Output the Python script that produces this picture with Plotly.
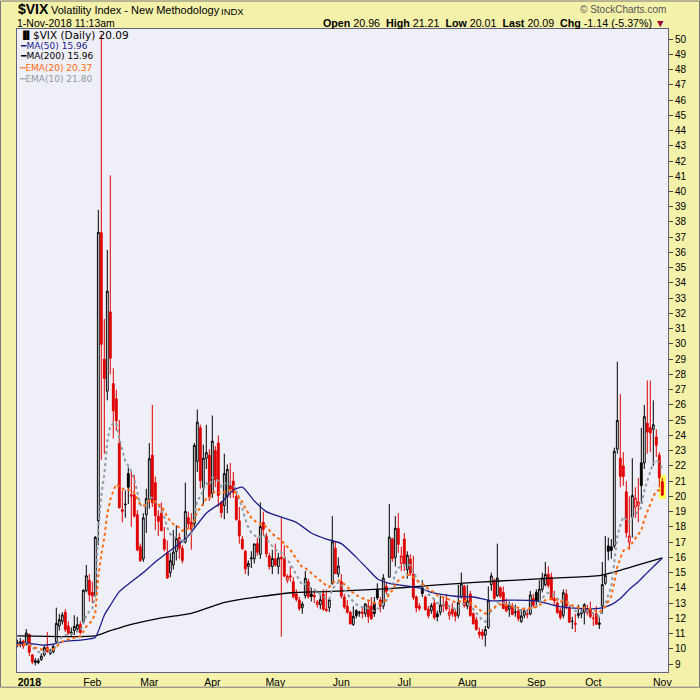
import pandas as pd
import plotly.graph_objects as go

# market holidays inside the window (Dec 26 2017 .. Nov 1 2018)
HOLIDAYS = ['2018-01-01', '2018-01-15', '2018-02-19', '2018-03-30',
            '2018-05-28', '2018-07-04', '2018-09-03']

# daily $VIX candles, one line per month (Dec, Jan, ..., Oct, Nov)
open_ = [
    10.40, 10.30, 10.50, 10.30,
    10.95, 9.60, 9.10, 9.10, 9.30, 9.60, 10.10, 9.70, 9.80, 10.45, 11.50, 11.80, 12.40, 11.50, 11.00, 11.20, 11.30, 11.60, 11.80, 13.80, 14.50,
    13.70, 13.50, 18.40, 37.30, 29.00, 26.90, 32.10, 27.40, 26.40, 23.50, 19.00, 19.50, 21.50, 20.10, 20.10, 18.80, 16.70, 15.90, 18.80,
    19.80, 22.70, 20.90, 18.70, 18.90, 17.20, 16.30, 15.00, 15.50, 16.40, 17.30, 16.60, 17.00, 18.60, 18.30, 18.20, 22.30, 24.50, 20.60, 22.50, 22.70,
    20.20, 23.00, 23.50, 19.60, 19.40, 20.00, 20.70, 21.00, 20.00, 18.40, 17.20, 16.40, 15.40, 15.90, 15.90, 16.90, 16.20, 18.30, 17.40, 16.10, 15.40,
    15.90, 15.40, 16.00, 15.90, 14.50, 14.80, 14.40, 13.60, 13.20, 12.70, 13.50, 14.40, 13.60, 13.50, 12.90, 12.90, 13.60, 12.60, 12.70, 14.30, 16.60, 14.90,
    14.40, 13.40, 12.80, 12.40, 11.60, 12.50, 12.40, 12.40, 12.30, 12.80, 12.80, 13.00, 13.90, 13.20, 12.80, 14.10, 14.70, 17.20, 16.00, 17.90, 15.60,
    17.20, 15.20, 15.90, 14.90, 13.40, 12.80, 14.00, 13.40, 12.60, 12.50, 13.00, 12.30, 12.40, 12.90, 13.10, 12.20, 12.60, 12.40, 12.20, 13.40, 14.10,
    12.80, 13.60, 12.30, 11.90, 11.10, 11.10, 10.90, 11.40, 14.20, 14.50, 13.50, 14.00, 13.70, 12.90, 12.60, 12.80, 12.40, 12.50, 11.80, 12.20, 12.30, 12.30, 13.30,
    13.70, 13.10, 13.90, 14.20, 14.90, 14.70, 13.30, 13.00, 12.50, 12.20, 13.60, 12.70, 11.80, 11.60, 12.30, 12.30, 12.40, 12.60, 12.60,
    12.00, 12.30, 11.70, 12.80, 14.30, 16.75, 16.70, 16.75, 23.10, 22.50, 22.00, 20.30, 17.00, 18.60, 19.30, 19.40, 22.20, 22.20, 24.80, 24.50, 24.40, 23.90, 22.70,
    20.96,
]
high = [
    10.60, 10.70, 10.60, 11.30,
    10.99, 9.65, 9.40, 9.38, 9.70, 10.25, 11.10, 10.00, 10.25, 12.70, 12.30, 12.40, 12.60, 11.80, 11.40, 12.20, 12.10, 11.80, 13.90, 15.50, 14.90,
    14.40, 17.40, 38.80, 50.30, 31.64, 36.17, 41.06, 28.40, 27.00, 25.00, 20.40, 20.40, 21.90, 21.60, 21.40, 19.10, 16.90, 18.90, 20.50,
    23.50, 26.00, 21.30, 19.10, 19.60, 18.00, 17.10, 16.30, 17.80, 18.10, 17.60, 16.80, 20.90, 19.00, 18.90, 23.50, 25.70, 24.70, 23.40, 24.70, 23.10,
    25.30, 23.30, 24.00, 19.70, 22.80, 22.10, 22.20, 21.60, 20.30, 19.30, 17.40, 16.50, 15.80, 16.40, 16.90, 17.30, 19.60, 19.00, 17.60, 16.30, 16.50,
    16.90, 16.30, 18.60, 16.80, 14.90, 15.40, 14.70, 13.90, 13.40, 13.10, 15.10, 14.60, 14.00, 13.90, 13.20, 13.50, 13.90, 13.90, 13.30, 18.70, 17.00, 16.00,
    14.90, 13.60, 13.20, 12.50, 12.80, 12.60, 12.50, 12.70, 13.00, 13.20, 13.40, 13.40, 14.30, 13.40, 14.90, 14.40, 19.50, 17.30, 18.70, 18.90, 16.70,
    17.60, 16.40, 16.20, 16.10, 13.50, 13.00, 14.50, 13.50, 12.80, 13.00, 13.30, 12.50, 13.50, 13.40, 13.60, 12.80, 13.00, 12.60, 14.20, 15.00, 14.20,
    14.20, 13.80, 12.40, 12.10, 11.40, 11.30, 11.50, 14.10, 15.00, 14.60, 16.90, 14.10, 14.10, 13.30, 13.10, 13.00, 12.90, 12.60, 12.60, 12.70, 12.60, 13.80, 13.60,
    13.90, 14.50, 15.00, 15.70, 15.40, 15.00, 13.80, 13.10, 12.70, 13.90, 13.90, 12.90, 12.10, 12.30, 12.90, 12.60, 13.00, 12.90, 13.10,
    12.40, 12.80, 12.10, 15.70, 17.40, 17.30, 17.20, 23.20, 28.84, 26.70, 22.90, 21.00, 20.00, 22.50, 20.60, 21.20, 24.50, 26.00, 27.60, 27.60, 26.30, 24.40, 22.90,
    21.21,
]
low = [
    10.10, 10.10, 10.00, 10.20,
    9.52, 8.99, 8.92, 9.00, 9.20, 9.50, 9.75, 9.60, 9.70, 10.40, 11.20, 11.60, 11.10, 10.90, 10.80, 10.90, 11.10, 10.95, 11.70, 13.70, 13.10,
    13.00, 13.40, 16.80, 22.40, 22.80, 26.30, 28.00, 23.80, 24.30, 19.20, 18.30, 18.60, 19.50, 18.00, 18.60, 16.40, 15.70, 15.70, 17.60,
    19.20, 19.30, 17.80, 17.40, 17.70, 16.40, 14.60, 14.70, 15.20, 15.80, 15.90, 15.60, 16.90, 17.90, 16.50, 18.00, 21.60, 20.50, 19.40, 21.80, 19.70,
    19.90, 20.60, 19.30, 18.60, 18.50, 18.90, 19.90, 19.90, 18.40, 16.90, 16.50, 14.90, 14.80, 15.30, 15.60, 16.10, 15.90, 17.40, 16.00, 15.20, 14.90,
    15.40, 14.90, 10.80, 14.70, 14.30, 14.40, 13.30, 13.10, 12.50, 12.30, 13.30, 13.30, 13.10, 13.00, 12.70, 12.60, 12.50, 12.40, 12.40, 14.20, 14.90, 14.70,
    13.30, 12.60, 12.30, 11.60, 11.50, 12.00, 12.10, 12.00, 12.10, 11.70, 11.90, 12.10, 13.20, 12.40, 12.60, 13.60, 14.70, 15.70, 15.40, 16.30, 15.10,
    15.10, 14.60, 14.80, 13.20, 12.40, 12.50, 13.40, 12.50, 12.00, 12.30, 11.90, 11.80, 12.20, 12.40, 12.50, 11.90, 12.10, 11.80, 12.00, 13.30, 12.70,
    12.60, 12.10, 11.60, 11.20, 10.70, 10.60, 10.15, 11.30, 13.80, 13.20, 13.40, 13.30, 12.60, 12.40, 12.10, 12.20, 12.10, 11.80, 11.70, 12.00, 12.00, 12.20, 12.70,
    12.70, 13.00, 13.70, 14.10, 14.00, 13.20, 12.90, 12.30, 11.90, 12.00, 12.60, 11.70, 11.30, 11.10, 12.00, 12.00, 11.60, 12.20, 12.00,
    11.50, 11.60, 11.30, 12.30, 14.20, 15.80, 15.90, 16.60, 22.80, 20.60, 20.70, 17.30, 16.50, 17.30, 18.60, 18.30, 19.50, 21.80, 22.80, 22.90, 22.00, 22.60, 20.60,
    20.01,
]
close = [
    10.25, 10.47, 10.18, 11.04,
    9.77, 9.15, 9.22, 9.22, 9.52, 10.08, 9.82, 9.88, 10.16, 11.66, 11.91, 12.22, 11.27, 11.03, 11.10, 11.47, 11.58, 11.08, 13.84, 14.79, 13.54,
    13.47, 17.31, 37.32, 29.98, 27.73, 33.46, 29.06, 25.61, 24.97, 19.26, 19.13, 19.46, 20.60, 20.02, 18.72, 16.49, 15.80, 18.59, 19.85,
    22.47, 19.59, 18.73, 18.36, 17.76, 16.54, 14.64, 15.78, 16.35, 17.23, 16.59, 15.80, 19.02, 18.20, 17.86, 23.34, 24.87, 21.03, 22.50, 22.87, 19.97,
    23.62, 21.10, 20.06, 18.94, 21.49, 21.77, 20.47, 20.24, 18.49, 17.41, 16.56, 15.25, 15.60, 15.96, 16.88, 16.34, 18.02, 17.84, 16.24, 15.41, 15.93,
    15.49, 15.97, 15.90, 14.77, 14.75, 14.71, 13.42, 13.23, 12.65, 12.93, 14.63, 13.42, 13.43, 13.42, 13.08, 13.22, 12.58, 12.53, 13.22, 17.02, 14.94, 15.43,
    13.46, 12.74, 12.40, 11.64, 12.13, 12.18, 12.35, 12.34, 12.94, 12.12, 11.98, 12.31, 13.35, 12.79, 14.64, 13.77, 17.33, 15.92, 17.91, 16.85, 16.09,
    15.60, 16.14, 14.97, 13.37, 12.69, 12.64, 13.63, 12.58, 12.18, 12.83, 12.06, 12.10, 12.87, 12.86, 12.62, 12.41, 12.29, 12.14, 13.03, 14.26, 12.83,
    13.15, 12.19, 11.64, 11.27, 10.93, 10.85, 11.27, 13.16, 14.78, 13.31, 14.64, 13.45, 12.64, 12.49, 12.86, 12.25, 12.41, 11.99, 12.16, 12.50, 12.25, 13.53, 12.86,
    13.16, 13.91, 14.65, 14.88, 14.16, 13.22, 13.14, 12.37, 12.07, 13.68, 12.79, 11.75, 11.80, 11.68, 12.20, 12.42, 12.89, 12.41, 12.12,
    12.00, 11.61, 11.61, 14.22, 14.82, 16.40, 16.45, 22.96, 24.98, 21.31, 21.30, 17.62, 17.40, 20.06, 19.89, 19.64, 20.71, 25.23, 24.22, 24.16, 24.70, 23.35, 21.23,
    20.09,
]

# moving averages (they need history from before the window)
ma50_dates = ['2017-12-26', '2018-01-02', '2018-01-08', '2018-01-12', '2018-01-19', '2018-01-25',
              '2018-01-31', '2018-02-02', '2018-02-07', '2018-02-09', '2018-02-14', '2018-02-21',
              '2018-02-27', '2018-03-05', '2018-03-09', '2018-03-15', '2018-03-20', '2018-03-28',
              '2018-04-05', '2018-04-11', '2018-04-16', '2018-04-20', '2018-04-26', '2018-05-02',
              '2018-05-10', '2018-05-17', '2018-05-24', '2018-06-01', '2018-06-08', '2018-06-14',
              '2018-06-19', '2018-06-25', '2018-07-10', '2018-07-16', '2018-07-26', '2018-08-03',
              '2018-08-13', '2018-08-22', '2018-09-04', '2018-09-13', '2018-09-24', '2018-10-03',
              '2018-10-09', '2018-10-12', '2018-10-17', '2018-10-22', '2018-10-25', '2018-11-01']
ma50 = [10.35, 10.35, 10.25, 10.30, 10.50, 10.55,
        10.65, 10.75, 12.20, 12.85, 13.75, 14.40,
        15.00, 15.70, 16.30, 16.90, 17.40, 18.90,
        19.60, 20.40, 20.60, 19.70, 19.00, 18.70,
        18.30, 17.60, 17.20, 16.90, 16.00, 15.20,
        14.60, 14.30, 14.00, 13.70, 13.45, 13.40,
        13.15, 13.20, 13.15, 12.80, 12.65, 12.65,
        12.90, 13.30, 13.90, 14.40, 15.00, 15.96]

ma200_dates = ['2017-12-26', '2018-02-02', '2018-02-09', '2018-02-15', '2018-02-21', '2018-03-05',
               '2018-03-15', '2018-03-21', '2018-03-28', '2018-04-06', '2018-04-12', '2018-04-23',
               '2018-05-08', '2018-05-24', '2018-06-11', '2018-06-25', '2018-07-10', '2018-07-24',
               '2018-08-16', '2018-09-06', '2018-09-21', '2018-10-03', '2018-10-12', '2018-10-22',
               '2018-11-01']
ma200 = [10.85, 10.85, 11.20, 11.43, 11.60, 11.95,
         12.20, 12.33, 12.65, 13.04, 13.20, 13.40,
         13.68, 13.75, 13.85, 13.95, 14.10, 14.25,
         14.45, 14.60, 14.70, 14.80, 15.15, 15.50,
         15.96]

tick_dates = ['2018-01-02', '2018-02-01', '2018-03-01', '2018-04-02', '2018-05-01', '2018-06-01',
              '2018-07-02', '2018-08-01', '2018-09-04', '2018-10-01', '2018-11-01']
tick_text = ['<b>2018</b>', 'Feb', 'Mar', 'Apr', 'May', 'Jun', 'Jul', 'Aug', 'Sep', 'Oct', 'Nov']

PAPER_BG = '#F3F1AA'
PLOT_BG = '#EFEFF7'
RED = '#E00000'
NAVY = '#1C1C8C'
ORANGE = '#FF6A10'
GREY = '#8E9CA2'
FRAME = '#62627E'

# pixel box of the plot area inside the 700x700 page
PL, PR, PT, PB = 17, 668, 29, 684


def px(x):
    return (x - PL) / (PR - PL)


def py(y):
    return (PB - y) / (PB - PT)


def note(text, x, y, size, anchor='left', colour='black', family='Liberation Sans'):
    return dict(text=text, x=px(x), y=py(y), xref='paper', yref='paper',
                xanchor=anchor, yanchor='middle', showarrow=False,
                font=dict(family=family, size=size, color=colour))


dates = [d.strftime('%Y-%m-%d') for d in pd.bdate_range('2017-12-26', '2018-11-01')
         if d.strftime('%Y-%m-%d') not in HOLIDAYS]

ema20 = pd.Series(close).ewm(span=20, adjust=False).mean().round(2).tolist()
ema10 = pd.Series(close).ewm(span=10, adjust=False).mean().round(2).tolist()

# StockCharts colouring: black/red from the previous close, hollow/filled from the open
prev = [close[0]] + close[:-1]
up_days = [i for i in range(len(close)) if close[i] >= prev[i]]
down_days = [i for i in range(len(close)) if close[i] < prev[i]]


def candles(days, colour):
    return go.Candlestick(
        x=[dates[i] for i in days],
        open=[open_[i] for i in days],
        high=[high[i] for i in days],
        low=[low[i] for i in days],
        close=[close[i] for i in days],
        increasing=dict(line=dict(color=colour, width=1), fillcolor=PLOT_BG),
        decreasing=dict(line=dict(color=colour, width=1), fillcolor=colour),
        whiskerwidth=0, hoverinfo='skip', showlegend=False)


last = len(close) - 1
highlight = go.Bar(x=[dates[last]], y=[high[last] - low[last] + 0.4], base=[low[last] - 0.2],
                   width=2.3, marker=dict(color='#FFFF55', line=dict(width=0)),
                   hoverinfo='skip', showlegend=False)

fig = go.Figure([highlight, candles(up_days, 'black'), candles(down_days, RED)])

fig.add_trace(go.Scatter(x=ma200_dates, y=ma200, mode='lines', hoverinfo='skip',
                         line=dict(color='black', width=1.3, shape='spline', smoothing=0.6)))
fig.add_trace(go.Scatter(x=ma50_dates, y=ma50, mode='lines', hoverinfo='skip',
                         line=dict(color=NAVY, width=1.3, shape='spline', smoothing=0.6)))
fig.add_trace(go.Scatter(x=dates, y=ema10, mode='lines', hoverinfo='skip',
                         line=dict(color=GREY, width=2, dash='dot')))
fig.add_trace(go.Scatter(x=dates, y=ema20, mode='lines', hoverinfo='skip',
                         line=dict(color=ORANGE, width=2, dash='dot')))

notes = [
    note('<b>$VIX</b>', 16, 9, 14),
    note('Volatility Index - New Methodology', 49, 10, 11),
    note('INDX', 219, 11, 9.5),
    note('1-Nov-2018 11:13am', 15, 23, 10.5),
    note('© StockCharts.com', 668, 9, 10, anchor='right', colour='#555555'),
    note('<b>Open</b> 20.96  <b>High</b> 21.21  <b>Low</b> 20.01  <b>Last</b> 20.09  '
         '<b>Chg</b> -1.14 (-5.37%) <span style="color:#990033">▼</span>',
         668, 23, 10.7, anchor='right'),
    note('<b>▐▌</b>', 18, 35, 8, family='DejaVu Sans'),
    note('$VIX (Daily) 20.09', 31, 35, 10.5, family='DejaVu Sans'),
    note('━MA(50) 15.96', 18, 46, 9, colour=NAVY, family='DejaVu Sans'),
    note('━MA(200) 15.96', 18, 57, 9, colour='black', family='DejaVu Sans'),
    note('┅EMA(20) 20.37', 18, 69, 9, colour=ORANGE, family='DejaVu Sans'),
    note('┅EMA(10) 21.80', 18, 80, 9, colour=GREY, family='DejaVu Sans'),
]

fig.update_layout(
    width=700, height=700, autosize=False,
    margin=dict(l=PL, r=700 - PR, t=PT, b=700 - PB, pad=0),
    paper_bgcolor=PAPER_BG, plot_bgcolor=PLOT_BG,
    showlegend=False, boxgap=0.12, bargap=0,
    annotations=notes,
    shapes=[dict(type='rect', xref='paper', yref='paper',
                 x0=px(0.5), x1=px(699.5), y0=py(699.5), y1=py(0.5),
                 line=dict(color='#7A7A7A', width=1))],
)
fig.update_xaxes(type='category', categoryorder='array', categoryarray=dates,
                 range=[-0.1, len(dates) + 0.9], rangeslider_visible=False,
                 tickvals=tick_dates, ticktext=tick_text, ticks='',
                 tickfont=dict(family='Liberation Sans', size=10.5, color='black'),
                 showgrid=False, zeroline=False, showline=True, linecolor=FRAME,
                 linewidth=1, mirror=True)
fig.update_yaxes(side='right', range=[8.48, 50.66], tick0=0, dtick=1,
                 ticks='outside', ticklen=4, tickcolor='#444444',
                 tickfont=dict(family='Liberation Sans', size=10, color='black'),
                 showgrid=False, zeroline=False, showline=True, linecolor=FRAME,
                 linewidth=1, mirror=True)

# the page body has a default 8px margin; drop it so the figure fills the window
fig.write_html('out.html', config={'displayModeBar': False},
               post_script="document.body.style.margin='0';"
                           "document.body.style.overflow='hidden';")
